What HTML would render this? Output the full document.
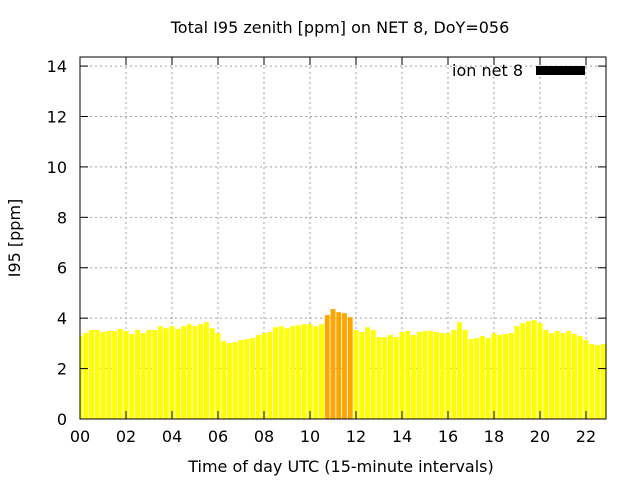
<!DOCTYPE html>
<html><head><meta charset="utf-8">
<style>
html,body{margin:0;padding:0;background:#fff;}
svg{display:block;font-family:"DejaVu Sans","Liberation Sans",sans-serif;}
</style></head>
<body>
<svg id="chart" width="640" height="480" viewBox="0 0 640 480">
<rect x="0" y="0" width="640" height="480" fill="#fff"/>
<text x="340" y="33" text-anchor="middle" font-size="16">Total I95 zenith [ppm] on NET 8, DoY=056</text>
<g id="grid"></g>
<g id="bars"></g>
<g id="axes"></g>
<text x="523" y="76" text-anchor="end" font-size="16">ion net 8</text>
<rect x="536" y="66" width="49" height="9" fill="#000"/>
<text x="341" y="472" text-anchor="middle" font-size="16">Time of day UTC (15-minute intervals)</text>
<text x="0" y="0" transform="translate(20,238) rotate(-90)" text-anchor="middle" font-size="16">I95 [ppm]</text>
</svg>
<script>
const values = [3.30,3.41,3.53,3.53,3.45,3.49,3.49,3.57,3.49,3.37,3.53,3.41,3.53,3.53,3.68,3.60,3.68,3.57,3.68,3.76,3.68,3.76,3.84,3.60,3.41,3.09,3.01,3.05,3.13,3.17,3.21,3.33,3.41,3.45,3.64,3.68,3.60,3.68,3.72,3.76,3.76,3.68,3.76,
4.12,4.36,4.24,4.20,4.04,
3.53,3.45,3.64,3.53,3.25,3.25,3.33,3.25,3.45,3.49,3.33,3.45,3.49,3.49,3.45,3.41,3.41,3.53,3.84,3.53,3.17,3.21,3.29,3.21,3.41,3.33,3.37,3.41,3.68,3.80,3.88,3.92,3.80,3.53,3.41,3.49,3.41,3.49,3.37,3.29,3.13,2.97,2.93,2.97];
const highlighted = [43,44,45,46,47];
const yTicks = [0,2,4,6,8,10,12,14];
const xTickHours = [0,2,4,6,8,10,12,14,16,18,20,22];
const xTickLabels = ["00","02","04","06","08","10","12","14","16","18","20","22"];
const L=80,R=606,T=57,B=419;
const yMax=14.36, xMax=22.87;
const ys=v=>B-(v/yMax)*(B-T);
const xs=h=>L+(h/xMax)*(R-L);
const NS="http://www.w3.org/2000/svg";
function mk(tag,attrs,parent){const e=document.createElementNS(NS,tag);for(const k in attrs)e.setAttribute(k,attrs[k]);parent.appendChild(e);return e;}
const grid=document.getElementById('grid'),bars=document.getElementById('bars'),axes=document.getElementById('axes');
yTicks.forEach(v=>{const y=ys(v);
 if(v>0&&v<14.3){const g=mk('line',{x1:L,x2:R,y1:y,y2:y,stroke:'#a0a0a0','stroke-dasharray':'2,3'},grid);
 
 }
 const t1=mk('line',{x1:L,x2:L+8,y1:y,y2:y,stroke:'#000'},axes);
 
 
 const t2=mk('line',{x1:R-8,x2:R,y1:y,y2:y,stroke:'#000'},axes);
 
 
 const lb=mk('text',{x:L-13,y:y+6,'text-anchor':'end','font-size':16},axes);lb.textContent=v;
 
 
});
xTickHours.forEach((h,i)=>{const x=xs(h);
 if(h>0){const g=mk('line',{x1:x,x2:x,y1:T,y2:B,stroke:'#a0a0a0','stroke-dasharray':'2,3'},grid);
 
 }
 const t1=mk('line',{x1:x,x2:x,y1:B-8,y2:B,stroke:'#000'},axes);
 
 
 const t2=mk('line',{x1:x,x2:x,y1:T,y2:T+8,stroke:'#000'},axes);
 
 
 const lb=mk('text',{x:x,y:B+23,'text-anchor':'middle','font-size':16},axes);lb.textContent=xTickLabels[i];
 
 
});
const bw=(xs(0.25)-xs(0))*0.85;
values.forEach((v,i)=>{const cx=xs(i*0.25);let x0=cx-bw/2,x1=cx+bw/2;if(x0<L)x0=L;
 const b=mk('rect',{x:x0,y:ys(v),width:x1-x0,height:B-ys(v),fill:highlighted.includes(i)?'#ffa500':'#ffff00'},bars);
 
 
});
const fr=mk('rect',{x:L,y:T,width:R-L,height:B-T,fill:'none',stroke:'#000','stroke-width':1},axes);


</script>
</body></html>
